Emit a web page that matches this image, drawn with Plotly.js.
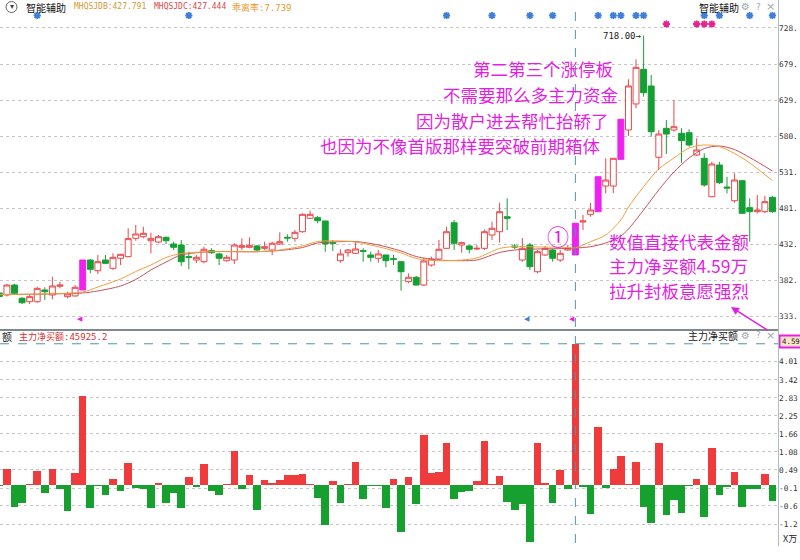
<!DOCTYPE html>
<html>
<head>
<meta charset="utf-8">
<script src="https://cdn.plot.ly/plotly-3.0.1.min.js"></script>
<style>
  html, body { margin: 0; padding: 0; background: #fff; }
  #chart { width: 800px; height: 560px; }
</style>
</head>
<body>
<div id="chart"></div>
<script>
// Daily sessions, oldest first. Entry 0 is the partly visible first session (day -1).
const openP = [366.0, 363.3, 376.9, 358.8, 354.1, 354.1, 370.1, 363.3, 375.2, 361.0, 362.0,
  370.1, 411.1, 396.5, 411.1, 399.8, 413.5, 415.7, 440.8, 443.0, 437.5,
  435.7, 442.2, 433.0, 431.6, 415.7, 411.1, 408.8, 423.9, 419.4, 410.2,
  411.1, 428.5, 428.5, 430.3, 427.1, 424.8, 433.0, 442.2, 440.8, 449.8,
  468.2, 469.0, 464.5, 434.8, 410.2, 421.1, 420.3, 423.9, 418.0, 413.5,
  418.0, 412.9, 408.8, 381.5, 387.5, 376.9, 404.3, 412.5, 427.1, 462.1,
  431.6, 430.3, 426.2, 427.1, 445.3, 449.8, 470.3, 430.3, 411.1, 431.6,
  395.1, 418.0, 424.8, 411.1, 424.8, 418.0, 463.1, 473.6, 477.2, 512.3,
  512.3, 548.8, 588.9, 624.5, 671.9, 649.1, 551.6, 591.2, 588.9, 584.4,
  585.2, 554.7, 550.2, 497.7, 541.0, 510.9, 492.2, 519.6, 482.7, 477.2,
  477.2, 496.9];
const highP = [368.8, 378.3, 378.3, 360.5, 363.3, 374.6, 373.8, 388.3, 381.5, 367.8, 376.9,
  411.1, 412.5, 418.0, 418.0, 420.3, 419.4, 454.5, 459.0, 456.7, 448.5,
  445.3, 443.0, 436.2, 438.5, 422.5, 418.0, 429.3, 427.1, 421.1, 418.0,
  434.0, 440.8, 442.2, 431.6, 436.2, 436.2, 449.0, 446.3, 452.2, 475.0,
  478.5, 471.3, 464.5, 438.5, 425.8, 426.2, 436.2, 427.1, 422.5, 424.8,
  418.0, 418.0, 409.8, 392.9, 389.3, 413.5, 415.7, 438.5, 456.7, 465.8,
  436.2, 431.6, 431.6, 453.1, 463.5, 489.5, 495.5, 433.0, 441.2, 434.4,
  424.8, 430.3, 426.2, 424.8, 431.6, 461.3, 472.7, 489.1, 525.0, 550.2,
  550.6, 603.5, 658.2, 685.6, 718.0, 664.1, 588.9, 602.6, 629.9, 591.2,
  589.9, 577.5, 557.0, 545.5, 545.5, 525.0, 529.7, 520.5, 495.5, 500.0,
  499.0, 498.6];
const lowP = [344.0, 361.2, 364.7, 351.0, 351.0, 352.7, 356.4, 357.4, 372.4, 358.8, 361.0,
  370.1, 392.9, 392.0, 405.7, 397.5, 404.3, 414.8, 437.5, 440.8, 420.3,
  434.0, 433.0, 424.8, 402.9, 398.4, 407.0, 406.6, 419.4, 404.3, 408.8,
  405.7, 424.8, 427.1, 422.5, 424.8, 418.0, 431.6, 436.2, 436.2, 448.5,
  467.2, 461.3, 422.5, 423.5, 407.4, 415.7, 419.4, 408.8, 408.8, 407.4,
  401.2, 404.3, 369.2, 379.3, 376.5, 375.6, 402.0, 411.1, 426.2, 424.8,
  421.1, 420.3, 424.8, 424.8, 438.5, 434.8, 452.2, 426.2, 408.8, 397.5,
  392.9, 416.6, 408.8, 408.4, 423.5, 418.0, 452.2, 470.3, 477.2, 502.3,
  502.7, 548.8, 580.7, 618.6, 634.4, 579.7, 534.2, 556.1, 586.6, 544.2,
  566.1, 553.3, 511.4, 496.9, 515.0, 502.3, 489.5, 474.0, 436.2, 475.0,
  475.0, 475.8];
const closeP = [361.2, 376.9, 365.6, 352.7, 361.0, 372.4, 367.8, 375.6, 376.9, 364.7, 373.8,
  411.1, 398.4, 408.8, 406.6, 414.8, 418.9, 440.3, 446.7, 447.6, 440.8,
  443.0, 437.5, 428.5, 408.8, 414.8, 414.8, 425.8, 421.1, 413.5, 414.8,
  431.6, 430.7, 431.2, 424.8, 429.3, 434.0, 436.2, 441.2, 449.0, 473.6,
  473.6, 464.9, 433.0, 434.0, 419.4, 424.8, 426.2, 423.0, 414.8, 419.4,
  410.2, 412.1, 395.1, 387.5, 376.9, 409.8, 412.5, 425.8, 449.8, 434.0,
  434.8, 425.8, 427.1, 449.8, 454.5, 477.2, 468.2, 428.9, 427.1, 402.0,
  422.5, 427.1, 413.5, 420.3, 427.1, 461.3, 464.5, 479.5, 525.0, 520.5,
  550.2, 603.5, 649.1, 674.6, 639.9, 586.6, 583.4, 583.4, 593.4, 574.3,
  568.4, 561.6, 513.7, 542.4, 516.8, 509.6, 520.5, 475.0, 477.2, 479.5,
  490.9, 477.2];

// 主力净买额 per session, in 万
const netBuy = [-0.02, 0.51, -0.71, -0.60, 0.03, 0.47, -0.27, 0.51, -0.14, -0.84, 0.38,
  2.88, -0.76, -0.03, -0.33, 0.20, -0.18, 0.73, -0.11, -0.14, -0.76,
  0.08, -0.60, -0.27, -0.76, 0.25, -0.05, 0.67, -0.18, -0.33, 0.03,
  1.09, -0.14, 0.33, -0.81, 0.16, 0.08, 0.16, 0.33, 0.33, 0.36,
  0.03, -0.43, -1.30, 0.14, -0.60, 0.03, 0.76, -0.47, -0.02, -0.03,
  -0.74, 0.20, -1.52, 0.25, -0.63, 1.63, 0.38, 0.42, 1.36, -0.47,
  -0.22, -0.20, 0.13, 1.43, 0.03, 0.29, -0.54, -0.81, -0.63, -1.87,
  1.36, 0.05, -0.58, 0.49, -0.14, 4.59252, -0.05, -0.94, 1.90, -0.11,
  0.51, 0.94, 0.03, 0.76, -0.73, -1.22, 1.36, -0.98, -0.49, -0.90,
  -0.03, 0.18, -1.03, 1.19, -0.33, -0.05, 0.41, -0.73, -0.14, -0.14,
  0.36, -0.51];

// sessions drawn as limit-up (solid magenta)
const limitUpDays = [10, 75, 78, 81];

// the two trend lines, sampled at these sessions
const maDays = [-1, 0, 10, 12, 15, 17, 19, 21, 23, 27, 33, 36, 39, 41, 44, 46, 49, 52, 54,
  57, 60, 62, 65, 67, 70, 74, 75, 77, 79, 81, 82, 84, 86, 88, 90, 92, 94, 96, 98, 101];
const maJDB = [364.0, 364.0, 367.4, 374.2, 385.2, 395.4, 404.3, 414.6, 420.0, 422.5, 422.5,
  424.8, 430.3, 436.4, 437.1, 435.7, 429.3, 420.7, 413.2, 410.2, 411.1, 413.9, 426.9,
  429.5, 429.0, 428.3, 427.791, 436.2, 445.3, 465.8, 483.6, 511.4, 535.6, 550.6, 564.3,
  568.4, 566.3, 556.8, 543.8, 519.8];
const maJDC = [364.0, 364.0, 366.0, 368.8, 375.6, 384.5, 397.5, 408.4, 418.0, 422.5, 422.5,
  424.1, 428.2, 434.4, 436.2, 436.4, 431.7, 423.4, 415.9, 411.1, 410.2, 411.1, 421.4,
  424.8, 426.2, 426.9, 427.444, 429.3, 434.4, 444.0, 453.5, 479.5, 506.9, 531.5, 550.6,
  563.6, 567.0, 562.2, 551.3, 532.8];
const biasRate = 7.739;

// signal stars along the top
const blueSignalDays = [4, 24, 58, 64, 69, 72, 78, 80, 81, 83, 84, 92, 94, 98, 101];
const pinkSignalDays = [87, 91, 92, 93];
// small flags under the candles
const flagDays = [10, 69, 75];
const flagColors = ['#e81ee8', '#3b7fd6', '#e81ee8'];

// axis ticks
const priceTicks = [333.60, 382.95, 432.30, 481.65, 531.00, 580.35, 629.70, 679.05, 728.40];
const flowTicks = [-1.27, -0.68, -0.10, 0.49, 1.08, 1.66, 2.25, 2.83, 3.42, 4.01];

const cursorDay = 75;

// ---------------------------------------------------------------------------
const day = openP.map((_, k) => k - 1);
const W = 778, H = 546;                       // plot area in px
const PX = x => x / W;
const PY = y => 1 - y / H;
const priceRange = [318.15, 766.66];
const flowRange = [-1.984, 5.008];
const priceAtPx = y => priceRange[1] - (priceRange[1] - priceRange[0]) * y / 328;
// the narrow axis column only has room for four characters
const axisText = v => v.toFixed(2).slice(0, 4);

const RED = '#e8484a', GREEN = '#14a034', MAGENTA = '#ee22ee';
const TEXT_PINK = '#e31fe3';

const isLimit = d => limitUpDays.includes(d);
const pick = (arr, keep) => arr.filter((_, k) => keep(day[k]));

const candles = {
  type: 'candlestick', xaxis: 'x', yaxis: 'y',
  x: pick(day, d => !isLimit(d)),
  open: pick(openP, d => !isLimit(d)), high: pick(highP, d => !isLimit(d)),
  low: pick(lowP, d => !isLimit(d)), close: pick(closeP, d => !isLimit(d)),
  increasing: { line: { color: RED, width: 1 }, fillcolor: '#ffffff' },
  decreasing: { line: { color: GREEN, width: 1 }, fillcolor: GREEN },
  whiskerwidth: 0, hoverinfo: 'skip'
};
const limitCandles = {
  type: 'candlestick', xaxis: 'x', yaxis: 'y',
  x: pick(day, isLimit),
  open: pick(openP, isLimit), high: pick(highP, isLimit),
  low: pick(lowP, isLimit), close: pick(closeP, isLimit),
  increasing: { line: { color: MAGENTA, width: 1 }, fillcolor: MAGENTA },
  decreasing: { line: { color: MAGENTA, width: 1 }, fillcolor: MAGENTA },
  whiskerwidth: 0, hoverinfo: 'skip'
};
const lineJDC = {
  type: 'scatter', mode: 'lines', xaxis: 'x', yaxis: 'y',
  x: maDays, y: maJDC, line: { color: '#cc4f5c', width: 1, shape: 'spline', smoothing: 0.8 },
  hoverinfo: 'skip'
};
const lineJDB = {
  type: 'scatter', mode: 'lines', xaxis: 'x', yaxis: 'y',
  x: maDays, y: maJDB, line: { color: '#f0a03c', width: 1, shape: 'spline', smoothing: 0.8 },
  hoverinfo: 'skip'
};
const starMarker = color => ({ symbol: 'asterisk-open', size: 6, color, line: { color, width: 1.8 } });
const blueStars = {
  type: 'scatter', mode: 'markers', xaxis: 'x', yaxis: 'y', cliponaxis: false,
  x: blueSignalDays, y: blueSignalDays.map(() => priceAtPx(15.5)),
  marker: starMarker('#3f7fdc'), hoverinfo: 'skip'
};
const pinkStars = {
  type: 'scatter', mode: 'markers', xaxis: 'x', yaxis: 'y', cliponaxis: false,
  x: pinkSignalDays, y: pinkSignalDays.map(() => priceAtPx(24)),
  marker: starMarker('#e8238c'), hoverinfo: 'skip'
};
const flowBars = {
  type: 'bar', xaxis: 'x2', yaxis: 'y2',
  x: day, y: netBuy, width: 1,
  marker: { color: netBuy.map(v => v >= 0 ? '#ef3b3b' : '#16a02e'), line: { width: 0 } },
  hoverinfo: 'skip'
};

// labels derived from the data
const hiIdx = highP.indexOf(Math.max(...highP));
const loIdx = lowP.indexOf(Math.min(...lowP));
const ci = day.indexOf(cursorDay);
const ciMa = maDays.indexOf(cursorDay);
const cursorFlow = netBuy[ci];

const A = (text, x, y, font, extra) => Object.assign({
  text, x: PX(x), y: PY(y), xref: 'paper', yref: 'paper',
  xanchor: 'left', yanchor: 'middle', showarrow: false, font
}, extra || {});
const cjk = (size, color) => ({ family: 'Noto Sans CJK SC, sans-serif', size, color });
const mono = (size, color) => ({ family: 'DejaVu Sans Mono, Noto Sans CJK SC, monospace', size, color });
const icon = (size) => ({ family: 'DejaVu Sans', size, color: '#a0a8b0' });

const annotations = [
  // header rows
  A('▾', 11.5, 6.5, { family: 'DejaVu Sans', size: 8, color: '#444' }, { xanchor: 'center' }),
  A('智能辅助', 24, 7.5, cjk(10, '#111')),
  A('MHQSJDB:' + maJDB[ciMa].toFixed(3), 72, 7, mono(8, '#cf9a34')),
  A('MHQSJDC:' + maJDC[ciMa].toFixed(3), 152, 7, mono(8, '#d84848')),
  A('乖离率:' + biasRate.toFixed(3), 230, 7.5, mono(9, '#e39a2a')),
  A('智能辅助', 697, 7.5, cjk(10, '#111')),
  A('⚙', 745, 7, icon(10), { xanchor: 'center' }),
  A('?', 758, 7, icon(9), { xanchor: 'center' }),
  A('×', 770, 7, icon(11), { xanchor: 'center' }),

  A('额', 0, 336, cjk(10, '#222')),
  A('主力净买额:' + (cursorFlow * 10000).toFixed(1), 17, 336, mono(9, '#d83030')),
  A('主力净买额', 686, 335, cjk(10, '#222')),
  A('⚙', 745, 335, icon(10), { xanchor: 'center' }),
  A('?', 758, 335, icon(9), { xanchor: 'center' }),
  A('×', 770, 335, icon(11), { xanchor: 'center' }),

  A(cursorFlow.toFixed(2), 779.5, 341.5, mono(7.4, '#222')),
  A('X万', 781, 538, cjk(9, '#222')),

  // extreme price labels
  { text: highP[hiIdx].toFixed(2) + '→', x: day[hiIdx], y: highP[hiIdx], xref: 'x', yref: 'y',
    xanchor: 'right', yanchor: 'middle', showarrow: false, font: mono(9, '#222') },
  { text: '←' + lowP[loIdx].toFixed(2), x: day[loIdx], y: lowP[loIdx], xref: 'x', yref: 'y',
    xanchor: 'left', yanchor: 'middle', xshift: 1, yshift: 2, showarrow: false, font: mono(9, '#222') },

  // commentary
  A('第二第三个涨停板', 471, 68, cjk(17.5, TEXT_PINK)),
  A('不需要那么多主力资金', 441, 94.5, cjk(17.5, TEXT_PINK)),
  A('因为散户进去帮忙抬轿了', 414, 120, cjk(17.5, TEXT_PINK)),
  A('也因为不像首版那样要突破前期箱体', 318, 145.5, cjk(17.5, TEXT_PINK)),
  A('①', 558, 235, cjk(22, TEXT_PINK), { xanchor: 'center' }),
  A('数值直接代表金额', 607, 241, cjk(17.5, TEXT_PINK)),
  A('主力净买额' + cursorFlow.toFixed(2) + '万', 607, 265.5, cjk(17.5, TEXT_PINK)),
  A('拉升封板意愿强烈', 607, 290, cjk(17.5, TEXT_PINK)),
  { text: '', x: PX(731), y: PY(307), xref: 'paper', yref: 'paper', showarrow: true,
    ax: 38, ay: 24, arrowcolor: TEXT_PINK, arrowwidth: 1.6, arrowhead: 2, arrowsize: 1 }
];

// flags below the candles
flagDays.forEach((d, k) => annotations.push({
  text: '◀', x: d, y: PY(319), xref: 'x', yref: 'paper', xshift: -3,
  showarrow: false, xanchor: 'center', yanchor: 'middle',
  font: { family: 'DejaVu Sans', size: 7, color: flagColors[k] }
}));

const shapes = [
  // header icon ring
  { type: 'circle', xref: 'paper', yref: 'paper', x0: PX(6), x1: PX(17), y0: PY(12.5), y1: PY(1.5),
    line: { color: '#666', width: 1 } },
  // panel separator and price-axis rule
  { type: 'line', xref: 'paper', yref: 'paper', x0: 0, x1: PX(778), y0: PY(330), y1: PY(330),
    line: { color: '#55606a', width: 1.5 } },
  { type: 'line', xref: 'paper', yref: 'paper', x0: PX(778.5), x1: PX(778.5), y0: 0, y1: 1,
    line: { color: '#a9bccb', width: 1 } },
  // crosshair at the cursor session
  { type: 'line', xref: 'x', yref: 'paper', x0: cursorDay, x1: cursorDay, y0: PY(12), y1: 0,
    line: { color: '#4f97a8', width: 1, dash: 'dash' } },
  { type: 'line', xref: 'paper', yref: 'y2', x0: 0, x1: PX(778), y0: cursorFlow, y1: cursorFlow,
    line: { color: '#4f97a8', width: 1, dash: 'dash' } },
  // value box on the flow axis
  { type: 'rect', xref: 'paper', yref: 'paper', x0: PX(779.5), x1: PX(808), y0: PY(347.5), y1: PY(335.5),
    line: { color: '#e81ee8', width: 2 }, fillcolor: '#fde4c8', layer: 'below' }
];

const gridAxis = {
  side: 'right', zeroline: false, ticks: '', showline: false,
  gridcolor: '#c6c6c6', griddash: 'dot', gridwidth: 1,
  tickfont: { family: 'DejaVu Sans Mono, monospace', size: 7.8, color: '#333' }
};

const layout = {
  width: 800, height: 560,
  margin: { l: 0, r: 22, t: 0, b: 14, pad: 0 },
  paper_bgcolor: '#ffffff', plot_bgcolor: '#ffffff',
  showlegend: false, boxgap: 0.22, boxgroupgap: 0,
  xaxis: { domain: [0, 1], range: [-0.91, 101.73], anchor: 'y', showticklabels: false,
    showgrid: false, zeroline: false, ticks: '', rangeslider: { visible: false } },
  yaxis: Object.assign({}, gridAxis, { domain: [1 - 328 / H, 1], range: priceRange, anchor: 'x',
    tickvals: priceTicks, ticktext: priceTicks.map(axisText) }),
  xaxis2: { domain: [0, 1], range: [-0.91, 101.73], anchor: 'y2', showticklabels: false,
    showgrid: false, zeroline: false, ticks: '' },
  yaxis2: Object.assign({}, gridAxis, { domain: [0, (H - 331) / H], range: flowRange, anchor: 'x2',
    tickvals: flowTicks, ticktext: flowTicks.map(axisText) }),
  bargap: 0,
  annotations, shapes
};

Plotly.newPlot('chart',
  [lineJDC, lineJDB, candles, limitCandles, blueStars, pinkStars, flowBars],
  layout, { staticPlot: true, displayModeBar: false });
</script>
</body>
</html>
